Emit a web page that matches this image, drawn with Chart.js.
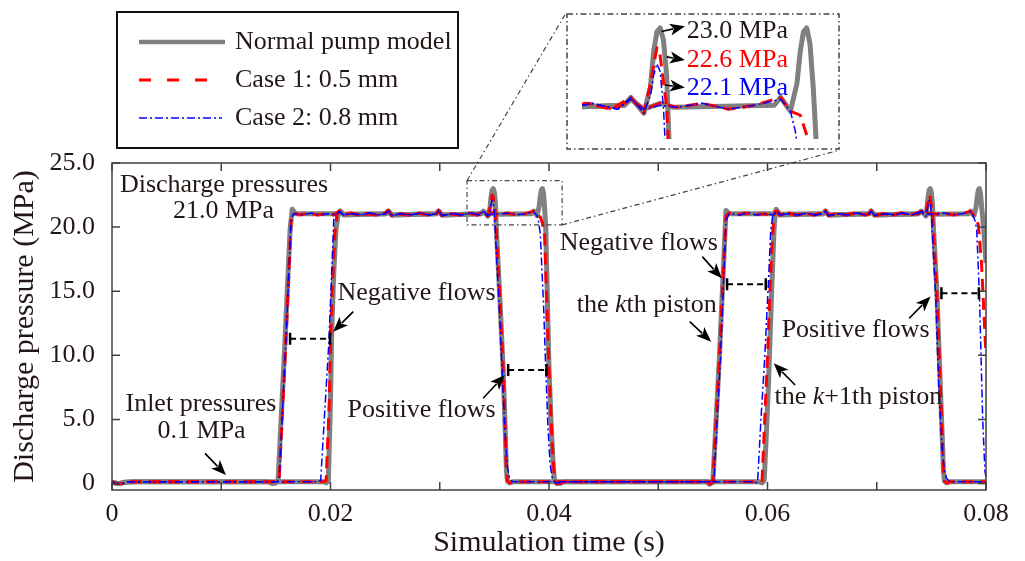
<!DOCTYPE html>
<html>
<head>
<meta charset="utf-8">
<title>Discharge pressure</title>
<script src="https://cdn.jsdelivr.net/npm/chart.js@4.4.1/dist/chart.umd.min.js"></script>
<style>
  body { margin: 0; background: #fff; }
  #wrap { position: relative; width: 1025px; height: 561px; }
  #main { position: absolute; left: 0; top: 0; }
  #inset { position: absolute; left: 566px; top: 13px; }
</style>
</head>
<body>
<div id="wrap">
  <canvas id="main" width="1025" height="561"></canvas>
  <canvas id="inset" width="274" height="137"></canvas>
</div>
<script>
const serif = "'Liberation Serif', 'Times New Roman', serif";
const ink = '#231815';
const gray = '#808080', red = '#ff0000', blue = '#0000ff';

const seriesNames = ['Normal pump model', 'Case 1: 0.5 mm', 'Case 2: 0.8 mm'];

const xTicks = [0, 0.01, 0.02, 0.03, 0.04, 0.05, 0.06, 0.07, 0.08];
const xTickText = ['0', '', '0.02', '', '0.04', '', '0.06', '', '0.08'];
const yTicks = [0, 5, 10, 15, 20, 25];
const yTickText = ['0', '5.0', '10.0', '15.0', '20.0', '25.0'];

// [time (s), pressure (MPa)], one array per piston
const normK = [[0,0.10],[0.0006,0],[0.0012,0.10],[0.0020,0.15],[0.0143,0.15],[0.0147,0],[0.0150,0.05],
  [0.0152,0.20],[0.0158,10.5],[0.0163,19.8],[0.0165,21.4],[0.0168,21.05],
  [0.0207,21.05],[0.0209,21.25],[0.0212,20.95],[0.0251,21.05],[0.0253,21.25],[0.0256,20.95],
  [0.0297,21.05],[0.0299,21.25],[0.0302,20.95],[0.0338,21.05],[0.0340,21.25],[0.0344,20.85],
  [0.0346,21.5],[0.0347,22.4],[0.0348,22.9],[0.0349,23.0],[0.0350,22.7],[0.0351,21.8],[0.0352,19.5],
  [0.0355,14.5],[0.0358,9.0],[0.0360,4.0],[0.0361,1.0],[0.0362,0.2],[0.0364,0.05],[0.0368,0.15],
  [0.0544,0.15],[0.0547,-0.05],[0.0550,0.10],[0.0556,9.9],[0.0560,17.5],[0.0562,21.3],[0.0565,21.05],
  [0.0606,21.05],[0.0608,21.3],[0.0611,20.95],[0.0651,21.05],[0.0653,21.25],[0.0656,20.95],
  [0.0693,21.05],[0.0695,21.25],[0.0698,20.95],[0.0738,21.05],[0.0741,21.25],[0.0745,20.85],
  [0.0746,21.5],[0.0747,22.4],[0.0748,22.9],[0.0749,23.0],[0.0750,22.7],[0.0751,21.8],[0.0752,19.8],
  [0.0755,15.0],[0.0758,8.0],[0.0760,3.5],[0.0761,1.0],[0.0762,0.2],[0.0764,0.05],[0.0768,0.15],[0.0800,0.15]];

const normK1 = [[0,0.10],[0.0006,0],[0.0012,0.10],[0.0020,0.15],[0.0194,0.15],[0.0196,0.05],[0.0198,0.20],
  [0.0200,6.5],[0.0201,11.5],[0.0203,16.5],[0.0205,19.8],[0.0207,21.0],[0.0209,21.25],[0.0212,21.0],
  [0.0251,21.05],[0.0253,21.25],[0.0256,20.95],[0.0297,21.05],[0.0299,21.25],[0.0302,20.95],
  [0.0338,21.05],[0.0340,21.2],[0.0344,20.95],[0.0349,21.1],[0.0353,21.0],
  [0.0384,21.05],[0.0386,21.25],[0.0389,20.9],[0.0391,21.6],[0.0392,22.4],[0.0393,22.9],[0.0394,23.0],
  [0.0395,22.6],[0.0396,21.5],[0.0397,20.0],[0.0400,9.0],[0.0402,4.5],[0.0404,1.2],[0.0405,0.3],
  [0.0407,0],[0.0410,0],[0.0413,0.15],
  [0.0592,0.15],[0.0595,0.05],[0.0597,0.25],[0.0599,4.0],[0.0601,8.0],[0.0602,10.5],[0.0604,15.5],
  [0.0606,19.8],[0.0607,21.0],[0.0608,21.4],[0.0611,21.0],
  [0.0651,21.05],[0.0653,21.25],[0.0656,20.95],[0.0693,21.05],[0.0695,21.25],[0.0698,20.95],
  [0.0738,21.05],[0.0741,21.2],[0.0745,20.95],[0.0749,21.1],[0.0753,21.0],
  [0.0784,21.05],[0.0786,21.25],[0.0789,20.9],[0.0791,21.6],[0.0792,22.4],[0.0793,22.9],[0.0794,23.0],
  [0.0795,22.6],[0.0796,21.6],[0.0798,19.8],[0.0800,17.2]];

const case1K = [[0,0.15],[0.0003,0],[0.0010,0],[0.0013,0.15],[0.0147,0.15],[0.0150,0.15],[0.0153,0.30],
  [0.0159,10.8],[0.0164,20.6],[0.0166,21.1],
  [0.0172,20.95],[0.0180,21.1],[0.0188,20.95],[0.0196,21.05],[0.0203,20.95],[0.0208,21.25],[0.0211,20.95],
  [0.0218,21.1],[0.0226,20.95],[0.0234,21.05],[0.0242,20.95],[0.0250,21.1],[0.0253,21.3],[0.0256,20.9],
  [0.0263,21.05],[0.0271,20.95],[0.0280,21.1],[0.0289,20.95],[0.0297,21.05],[0.0299,21.3],[0.0302,20.9],
  [0.0310,21.05],[0.0318,20.95],[0.0326,21.1],[0.0334,20.95],[0.0340,21.25],[0.0344,20.85],
  [0.0346,21.6],[0.0348,22.5],[0.0349,22.3],[0.0351,21.0],[0.0352,19.3],[0.0355,14.5],[0.0358,9.0],
  [0.0360,4.0],[0.0361,1.0],[0.0362,0.2],[0.0364,0.05],[0.0368,0.15],
  [0.0544,0.15],[0.0547,-0.05],[0.0550,0.15],[0.0556,9.9],[0.0562,20.9],[0.0565,21.1],
  [0.0572,20.95],[0.0580,21.1],[0.0588,20.95],[0.0596,21.05],[0.0603,20.95],[0.0608,21.25],[0.0611,20.95],
  [0.0618,21.1],[0.0626,20.95],[0.0634,21.05],[0.0642,20.95],[0.0650,21.1],[0.0653,21.3],[0.0656,20.9],
  [0.0663,21.05],[0.0671,20.95],[0.0680,21.1],[0.0689,20.95],[0.0693,21.05],[0.0695,21.3],[0.0698,20.9],
  [0.0706,21.05],[0.0714,20.95],[0.0722,21.1],[0.0730,20.95],[0.0738,21.05],[0.0741,21.25],[0.0745,20.85],
  [0.0746,21.6],[0.0748,22.5],[0.0749,22.3],[0.0751,21.0],[0.0752,19.5],[0.0755,15.0],[0.0758,8.0],
  [0.0760,3.5],[0.0761,1.0],[0.0762,0.2],[0.0764,0.05],[0.0768,0.15],[0.0800,0.15]];

const case1K1 = [[0,0.15],[0.0003,0],[0.0010,0],[0.0013,0.15],[0.0193,0.15],[0.0196,0.20],[0.0199,6.5],
  [0.0200,11.0],[0.0202,16.0],[0.0204,19.5],[0.0206,21.0],[0.0209,21.25],[0.0212,20.95],
  [0.0219,21.1],[0.0227,20.95],[0.0235,21.05],[0.0243,20.95],[0.0250,21.1],[0.0253,21.3],[0.0256,20.9],
  [0.0264,21.05],[0.0272,20.95],[0.0281,21.1],[0.0290,20.95],[0.0297,21.05],[0.0299,21.3],[0.0302,20.9],
  [0.0311,21.05],[0.0319,20.95],[0.0327,21.1],[0.0335,20.95],[0.0340,21.2],[0.0344,20.95],[0.0349,21.1],
  [0.0354,21.0],[0.0362,21.1],[0.0370,20.95],[0.0378,21.05],[0.0386,21.25],[0.0389,20.9],
  [0.0392,20.8],[0.0394,20.3],[0.0396,19.3],[0.0398,14.0],[0.0400,9.0],[0.0403,3.0],[0.0405,0.4],
  [0.0407,0],[0.0411,0],[0.0414,0.15],
  [0.0593,0.15],[0.0595,0.20],[0.0598,6.0],[0.0600,9.9],[0.0602,14.5],[0.0604,18.5],[0.0606,21.0],
  [0.0609,21.25],[0.0612,20.95],
  [0.0619,21.1],[0.0627,20.95],[0.0635,21.05],[0.0643,20.95],[0.0650,21.1],[0.0653,21.3],[0.0656,20.9],
  [0.0664,21.05],[0.0672,20.95],[0.0681,21.1],[0.0690,20.95],[0.0693,21.05],[0.0695,21.3],[0.0698,20.9],
  [0.0707,21.05],[0.0715,20.95],[0.0723,21.1],[0.0731,20.95],[0.0740,21.2],[0.0744,20.95],[0.0749,21.1],
  [0.0754,21.0],[0.0762,21.1],[0.0770,20.95],[0.0778,21.05],[0.0786,21.25],[0.0789,20.9],
  [0.0791,20.6],[0.0793,20.2],[0.0796,17.0],[0.0800,10.0]];

const case2K = [[0,0.15],[0.0003,0],[0.0010,0],[0.0013,0.15],[0.0148,0.15],[0.0151,0.15],[0.0153,0.30],
  [0.0159,10.8],[0.0164,20.6],[0.0166,21.05],
  [0.0174,20.95],[0.0182,21.1],[0.0190,20.95],[0.0198,21.05],[0.0205,20.95],[0.0208,21.2],[0.0211,20.95],
  [0.0220,21.05],[0.0228,20.95],[0.0236,21.1],[0.0244,20.95],[0.0250,21.05],[0.0253,21.25],[0.0256,20.9],
  [0.0265,21.05],[0.0273,20.95],[0.0282,21.1],[0.0290,20.95],[0.0297,21.05],[0.0299,21.25],[0.0302,20.9],
  [0.0312,21.05],[0.0320,20.95],[0.0328,21.1],[0.0336,20.95],[0.0340,21.25],[0.0344,20.85],
  [0.0346,21.3],[0.0347,21.8],[0.0348,22.1],[0.0349,21.9],[0.0350,21.0],[0.0354,14.5],[0.0357,9.0],
  [0.0360,3.5],[0.0362,1.2],[0.0364,0.4],[0.0367,0.15],
  [0.0547,0.15],[0.0550,0.15],[0.0551,0.30],[0.0557,9.9],[0.0562,20.5],[0.0565,21.05],
  [0.0574,20.95],[0.0582,21.1],[0.0590,20.95],[0.0598,21.05],[0.0605,20.95],[0.0608,21.2],[0.0611,20.95],
  [0.0620,21.05],[0.0628,20.95],[0.0636,21.1],[0.0644,20.95],[0.0650,21.05],[0.0653,21.25],[0.0656,20.9],
  [0.0665,21.05],[0.0673,20.95],[0.0682,21.1],[0.0690,20.95],[0.0693,21.05],[0.0695,21.25],[0.0698,20.9],
  [0.0708,21.05],[0.0716,20.95],[0.0724,21.1],[0.0732,20.95],[0.0738,21.05],[0.0741,21.25],[0.0745,20.85],
  [0.0746,21.3],[0.0747,21.7],[0.0748,22.1],[0.0749,21.9],[0.0750,21.0],[0.0754,14.5],[0.0757,7.0],
  [0.0760,2.5],[0.0762,1.0],[0.0764,0.4],[0.0767,0.15],[0.0800,0.15]];

const case2K1 = [[0,0.15],[0.0003,0],[0.0010,0],[0.0013,0.15],[0.0189,0.15],[0.0191,0.25],[0.01985,11.0],
  [0.0203,20.6],[0.0205,21.05],[0.0209,21.2],[0.0212,20.95],
  [0.0220,21.05],[0.0228,20.95],[0.0236,21.1],[0.0244,20.95],[0.0250,21.05],[0.0253,21.25],[0.0256,20.9],
  [0.0265,21.05],[0.0273,20.95],[0.0282,21.1],[0.0290,20.95],[0.0297,21.05],[0.0299,21.25],[0.0302,20.9],
  [0.0312,21.05],[0.0320,20.95],[0.0328,21.1],[0.0336,20.95],[0.0340,21.2],[0.0344,20.95],[0.0349,21.05],
  [0.0354,21.0],[0.0362,21.1],[0.0370,20.95],[0.0378,21.05],[0.0386,21.2],[0.0389,20.9],
  [0.03905,20.4],[0.0392,19.5],[0.0395,14.0],[0.0397,9.0],[0.0399,4.5],[0.0401,1.5],[0.0403,0.4],
  [0.0406,0.05],[0.0410,0.05],[0.0413,0.15],
  [0.0588,0.15],[0.0590,0.05],[0.0591,0.25],[0.0594,5.0],[0.05975,9.9],[0.0601,16.0],[0.0603,19.8],
  [0.0605,21.0],[0.0609,21.2],[0.0612,20.95],
  [0.0620,21.05],[0.0628,20.95],[0.0636,21.1],[0.0644,20.95],[0.0650,21.05],[0.0653,21.25],[0.0656,20.9],
  [0.0665,21.05],[0.0673,20.95],[0.0682,21.1],[0.0690,20.95],[0.0693,21.05],[0.0695,21.25],[0.0698,20.9],
  [0.0708,21.05],[0.0716,20.95],[0.0724,21.1],[0.0732,20.95],[0.0740,21.2],[0.0744,20.95],[0.0749,21.05],
  [0.0754,21.0],[0.0762,21.1],[0.0770,20.95],[0.0778,21.05],[0.0786,21.2],[0.0788,20.9],
  [0.0790,20.5],[0.07915,19.8],[0.0794,14.6],[0.0797,5.0],[0.0799,1.0],[0.0800,0.5]];

// annotation placement, in data units
const notes = [
  {segs: [['Discharge pressures']], x: 0.01025, y: 23.29},
  {segs: [['21.0 MPa']], x: 0.0102, y: 21.26},
  {segs: [['Inlet pressures']], x: 0.00814, y: 6.21},
  {segs: [['0.1 MPa']], x: 0.0082, y: 4.1},
  {segs: [['Negative flows']], x: 0.02788, y: 14.84},
  {segs: [['Positive flows']], x: 0.02833, y: 5.74},
  {segs: [['Negative flows']], x: 0.04822, y: 18.77},
  {segs: [['the '], ['k', true], ['th piston']], x: 0.04895, y: 13.93},
  {segs: [['Positive flows']], x: 0.06807, y: 11.98},
  {segs: [['the '], ['k', true], ['+1th piston']], x: 0.06832, y: 6.75}
];
const arrows = [
  [0.00851, 2.36, 0.01043, 0.67],
  [0.02208, 13.41, 0.02025, 11.85],
  [0.03397, 6.65, 0.03596, 8.47],
  [0.05403, 17.70, 0.05581, 16.01],
  [0.05288, 12.63, 0.05484, 11.07],
  [0.07297, 12.89, 0.07493, 14.58],
  [0.06253, 7.69, 0.06057, 9.38]
];
const spans = [
  [0.01630, 0.01995, 11.30],
  [0.03626, 0.03977, 8.86],
  [0.05630, 0.05984, 15.55],
  [0.07592, 0.07935, 14.84]
];
const zoomBox = [0.0325, 0.0412, 20.17, 23.63];
const insetNotes = [
  {text: '23.0 MPa', color: ink, x: 0.03572, y: 22.92, from: [0.03494, 22.91], to: [0.03566, 23.04]},
  {text: '22.6 MPa', color: red, x: 0.03572, y: 22.19, from: [0.0351, 22.27], to: [0.03566, 22.19]},
  {text: '22.1 MPa', color: blue, x: 0.03572, y: 21.47, from: [0.03505, 21.56], to: [0.03566, 21.50]}
];

function lineSet(points, color, width, dash, order) {
  return {
    data: points.map(([x, y]) => ({x, y})),
    borderColor: color, borderWidth: width, borderDash: dash, order: order,
    pointRadius: 0, tension: 0, fill: false, borderJoinStyle: 'round'
  };
}
function allSets() {
  return [
    lineSet(case2K, blue, 1.5, [8, 3, 2, 3], 0),
    lineSet(case2K1, blue, 1.5, [8, 3, 2, 3], 0),
    lineSet(case1K, red, 3, [12, 7], 1),
    lineSet(case1K1, red, 3, [12, 7], 1),
    lineSet(normK, gray, 5, [], 2),
    lineSet(normK1, gray, 5, [], 2)
  ];
}

function drawArrow(ctx, x1, y1, x2, y2) {
  const a = Math.atan2(y2 - y1, x2 - x1), h = 15, w = 6;
  const c = Math.cos(a), s = Math.sin(a);
  ctx.beginPath();
  ctx.moveTo(x1, y1);
  ctx.lineTo(x2 - h * 0.8 * c, y2 - h * 0.8 * s);
  ctx.stroke();
  ctx.beginPath();
  ctx.moveTo(x2, y2);
  ctx.lineTo(x2 - h * c + w * s, y2 - h * s - w * c);
  ctx.lineTo(x2 - h * 0.75 * c, y2 - h * 0.75 * s);
  ctx.lineTo(x2 - h * c - w * s, y2 - h * s + w * c);
  ctx.closePath();
  ctx.fill();
}

function drawRich(ctx, segs, cx, cy) {
  const fontOf = it => (it ? 'italic ' : '') + '26px ' + serif;
  let total = 0;
  segs.forEach(([t, it]) => { ctx.font = fontOf(it); total += ctx.measureText(t).width; });
  let x = cx - total / 2;
  ctx.textAlign = 'left';
  segs.forEach(([t, it]) => {
    ctx.font = fontOf(it);
    ctx.fillText(t, x, cy);
    x += ctx.measureText(t).width;
  });
}

const frame = {
  id: 'frame',
  afterDatasetsDraw(chart) {
    const {ctx, chartArea: a, scales: {x, y}} = chart;
    ctx.save();
    ctx.strokeStyle = '#404040';
    ctx.lineWidth = 1.5;
    ctx.strokeRect(a.left, a.top, a.right - a.left, a.bottom - a.top);
    ctx.beginPath();
    xTicks.forEach(v => {
      const p = x.getPixelForValue(v);
      ctx.moveTo(p, a.bottom); ctx.lineTo(p, a.bottom - 8);
      ctx.moveTo(p, a.top); ctx.lineTo(p, a.top + 8);
    });
    yTicks.forEach(v => {
      const p = y.getPixelForValue(v);
      ctx.moveTo(a.left, p); ctx.lineTo(a.left + 8, p);
      ctx.moveTo(a.right, p); ctx.lineTo(a.right - 8, p);
    });
    ctx.stroke();
    ctx.restore();
  }
};

const marks = {
  id: 'marks',
  afterDraw(chart) {
    const {ctx, scales: {x, y}} = chart;
    ctx.save();
    ctx.fillStyle = ink;
    ctx.textBaseline = 'middle';
    notes.forEach(n => drawRich(ctx, n.segs, x.getPixelForValue(n.x), y.getPixelForValue(n.y)));

    ctx.strokeStyle = '#000';
    ctx.fillStyle = '#000';
    ctx.lineWidth = 1.6;
    arrows.forEach(([x1, y1, x2, y2]) =>
      drawArrow(ctx, x.getPixelForValue(x1), y.getPixelForValue(y1), x.getPixelForValue(x2), y.getPixelForValue(y2)));

    spans.forEach(([x1, x2, v]) => {
      const p1 = x.getPixelForValue(x1), p2 = x.getPixelForValue(x2), py = y.getPixelForValue(v);
      ctx.lineWidth = 2;
      ctx.setLineDash([6, 4]);
      ctx.beginPath(); ctx.moveTo(p1, py); ctx.lineTo(p2, py); ctx.stroke();
      ctx.setLineDash([]);
      ctx.lineWidth = 2.5;
      ctx.beginPath();
      ctx.moveTo(p1, py - 6); ctx.lineTo(p1, py + 6);
      ctx.moveTo(p2, py - 6); ctx.lineTo(p2, py + 6);
      ctx.stroke();
    });

    // zoom box and leader lines to the inset
    const bx1 = x.getPixelForValue(zoomBox[0]), bx2 = x.getPixelForValue(zoomBox[1]);
    const by1 = y.getPixelForValue(zoomBox[3]), by2 = y.getPixelForValue(zoomBox[2]);
    const inset = document.getElementById('inset');
    ctx.strokeStyle = '#444';
    ctx.lineWidth = 1.2;
    ctx.setLineDash([5, 3, 1.5, 3]);
    ctx.strokeRect(bx1, by1, bx2 - bx1, by2 - by1);
    ctx.beginPath();
    ctx.moveTo(bx1, by1); ctx.lineTo(inset.offsetLeft, inset.offsetTop);
    ctx.moveTo(bx2, by2); ctx.lineTo(inset.offsetLeft + inset.width, inset.offsetTop + inset.height);
    ctx.stroke();
    ctx.setLineDash([]);

    // legend box
    const styles = [[gray, 4.5, [], 86], [red, 3, [12, 16], 71], [blue, 1.5, [8, 3, 2, 3], 83]];
    ctx.strokeStyle = '#111';
    ctx.lineWidth = 2;
    ctx.strokeRect(117, 12, 341, 136);
    seriesNames.forEach((name, i) => {
      const [col, lw, dash, len] = styles[i];
      const ry = 42 + i * 38;
      ctx.strokeStyle = col;
      ctx.lineWidth = lw;
      ctx.setLineDash(dash);
      ctx.beginPath(); ctx.moveTo(139, ry); ctx.lineTo(139 + len, ry); ctx.stroke();
      ctx.setLineDash([]);
      ctx.fillStyle = ink;
      ctx.font = '26px ' + serif;
      ctx.textAlign = 'left';
      ctx.fillText(name, 235, ry);
    });
    ctx.restore();
  }
};

new Chart(document.getElementById('main'), {
  type: 'line',
  data: {datasets: allSets()},
  options: {
    responsive: false,
    animation: false,
    layout: {padding: {top: 163, right: 39, left: 0, bottom: 0}},
    plugins: {legend: {display: false}, tooltip: {enabled: false}},
    scales: {
      x: {
        type: 'linear', min: 0, max: 0.08,
        grid: {display: false, drawTicks: false}, border: {display: false},
        afterBuildTicks: s => { s.ticks = xTicks.map(v => ({value: v})); },
        afterFit: s => { s.height = 71; },
        ticks: {autoSkip: false, maxRotation: 0, padding: 9, color: ink,
          font: {family: serif, size: 26}, callback: (v, i) => xTickText[i]},
        title: {display: true, text: 'Simulation time (s)', color: ink,
          font: {family: serif, size: 30}, padding: {top: 0, bottom: 0}}
      },
      y: {
        type: 'linear', min: -0.5, max: 25,
        grid: {display: false, drawTicks: false}, border: {display: false},
        afterBuildTicks: s => { s.ticks = yTicks.map(v => ({value: v})); },
        afterFit: s => { s.width = 112; },
        ticks: {autoSkip: false, padding: 17, color: ink,
          font: {family: serif, size: 26}, callback: (v, i) => yTickText[i]},
        title: {display: true, text: 'Discharge pressure (MPa)', color: ink,
          font: {family: serif, size: 30}, padding: {top: 7, bottom: 0}}
      }
    }
  },
  plugins: [frame, marks]
});

const insetMarks = {
  id: 'insetMarks',
  afterDraw(chart) {
    const {ctx, width, height, scales: {x, y}} = chart;
    ctx.save();
    ctx.strokeStyle = '#444';
    ctx.lineWidth = 1.5;
    ctx.setLineDash([6, 3, 1.5, 3]);
    ctx.strokeRect(1, 1, width - 2, height - 2);
    ctx.setLineDash([]);
    ctx.strokeStyle = '#000';
    ctx.fillStyle = '#000';
    ctx.lineWidth = 1.6;
    insetNotes.forEach(n => drawArrow(ctx, x.getPixelForValue(n.from[0]), y.getPixelForValue(n.from[1]),
      x.getPixelForValue(n.to[0]), y.getPixelForValue(n.to[1])));
    ctx.textBaseline = 'middle';
    ctx.textAlign = 'left';
    ctx.font = '26px ' + serif;
    insetNotes.forEach(n => {
      ctx.fillStyle = n.color;
      ctx.fillText(n.text, x.getPixelForValue(n.x), y.getPixelForValue(n.y));
    });
    ctx.restore();
  }
};

new Chart(document.getElementById('inset'), {
  type: 'line',
  data: {datasets: allSets()},
  options: {
    responsive: false,
    animation: false,
    layout: {padding: {left: 16, right: 17, top: 3, bottom: 11}},
    plugins: {legend: {display: false}, tooltip: {enabled: false}},
    scales: {
      x: {type: 'linear', display: false, min: 0.0325, max: 0.0399},
      y: {type: 'linear', display: false, min: 20.2, max: 23.3}
    }
  },
  plugins: [insetMarks]
});
</script>
</body>
</html>
